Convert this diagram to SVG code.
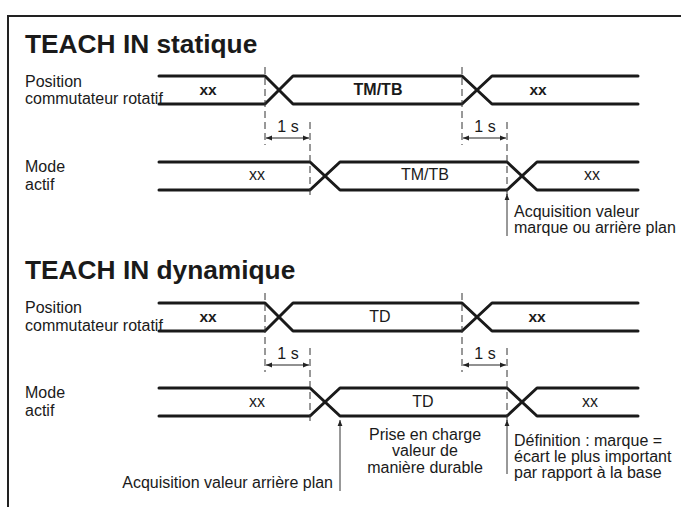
<svg xmlns="http://www.w3.org/2000/svg" width="681" height="507" viewBox="0 0 681 507">
  <defs>
    <marker id="ah" viewBox="0 0 10 10" refX="10" refY="5" markerWidth="8" markerHeight="6" markerUnits="userSpaceOnUse" orient="auto-start-reverse">
      <path d="M0,1 L10,5 L0,9 Z" fill="#222"/>
    </marker>
    <marker id="ahUp" viewBox="0 0 10 10" refX="10" refY="5" markerWidth="9" markerHeight="6" markerUnits="userSpaceOnUse" orient="auto">
      <path d="M0,1 L10,5 L0,9 Z" fill="#222"/>
    </marker>
  </defs>
  <style>
    text { font-family: "Liberation Sans", Arial, Helvetica, sans-serif; fill: #1a1a1a; }
    .title { font-size: 26.3px; font-weight: bold; }
    .lbl { font-size: 16px; }
    .val { font-size: 16px; text-anchor: middle; }
    .valb { font-size: 15.5px; text-anchor: middle; font-weight: bold; }
    .mid { text-anchor: middle; }
    .end { text-anchor: end; }
    .sig { fill: none; stroke: #1a1a1a; stroke-width: 3; stroke-linecap: round; stroke-linejoin: round; }
    .dash { fill: none; stroke: #333; stroke-width: 1; stroke-dasharray: 7 4; }
    .dim { fill: none; stroke: #222; stroke-width: 1; }
    .ann { fill: none; stroke: #333; stroke-width: 1; }
    .frame { fill: none; stroke: #222; stroke-width: 2; }
  </style>
  <rect width="681" height="507" fill="#fff"/>
  <path class="frame" d="M8,507 V16 H681"/>

  <!-- STATIC -->
  <g id="static">
    <text class="title" x="25" y="53">TEACH IN statique</text>
    <g id="static-position">
      <text class="lbl" x="25" y="87">Position</text>
      <text class="lbl" x="25" y="104">commutateur rotatif</text>
      <path class="sig" d="M159,76 H265 L293,104 H462 L492,76 H638"/>
      <path class="sig" d="M159,104 H265 L293,76 H462 L492,104 H638"/>
      <text class="valb" x="208" y="95">xx</text>
      <text class="val" x="378" y="95" font-weight="bold" font-size="15.5">TM/TB</text>
      <text class="valb" x="538" y="95">xx</text>
    </g>
    <g id="static-mode">
      <text class="lbl" x="25" y="172">Mode</text>
      <text class="lbl" x="25" y="190">actif</text>
      <path class="sig" d="M159,162 H310 L340,190 H507 L537,162 H638"/>
      <path class="sig" d="M159,190 H310 L340,162 H507 L537,190 H638"/>
      <text class="val" x="257" y="180">xx</text>
      <text class="val" x="425" y="180">TM/TB</text>
      <text class="val" x="592" y="180">xx</text>
    </g>
    <g id="static-timing">
      <path class="dash" d="M265,67 V145 M462,67 V145 M310,122 V198 M507,122 V198"/>
      <path class="dim" d="M266,138 H309" marker-start="url(#ah)" marker-end="url(#ah)"/>
      <path class="dim" d="M463,138 H506" marker-start="url(#ah)" marker-end="url(#ah)"/>
      <text class="lbl mid" x="288" y="132">1 s</text>
      <text class="lbl mid" x="485" y="132">1 s</text>
    </g>
    <g id="static-acquisition">
      <path class="ann" d="M507,236 V194" marker-end="url(#ahUp)"/>
      <text class="lbl" x="514" y="217">Acquisition valeur</text>
      <text class="lbl" x="514" y="233">marque ou arrière plan</text>
    </g>
  </g>

  <!-- DYNAMIC -->
  <g id="dynamic">
    <text class="title" x="25" y="279">TEACH IN dynamique</text>
    <g id="dynamic-position">
      <text class="lbl" x="25" y="313">Position</text>
      <text class="lbl" x="25" y="331">commutateur rotatif</text>
      <path class="sig" d="M159,303 H265 L293,331 H462 L492,303 H638"/>
      <path class="sig" d="M159,331 H265 L293,303 H462 L492,331 H638"/>
      <text class="valb" x="208" y="322">xx</text>
      <text class="val" x="380" y="322">TD</text>
      <text class="valb" x="537" y="322">xx</text>
    </g>
    <g id="dynamic-mode">
      <text class="lbl" x="25" y="398">Mode</text>
      <text class="lbl" x="25" y="416">actif</text>
      <path class="sig" d="M159,388 H310 L340,416 H507 L537,388 H638"/>
      <path class="sig" d="M159,416 H310 L340,388 H507 L537,416 H638"/>
      <text class="val" x="257" y="407">xx</text>
      <text class="val" x="423" y="407">TD</text>
      <text class="val" x="590" y="407">xx</text>
    </g>
    <g id="dynamic-timing">
      <path class="dash" d="M265,293 V372 M462,293 V372 M310,348 V424 M507,348 V424"/>
      <path class="dim" d="M266,365 H309" marker-start="url(#ah)" marker-end="url(#ah)"/>
      <path class="dim" d="M463,365 H506" marker-start="url(#ah)" marker-end="url(#ah)"/>
      <text class="lbl mid" x="288" y="359">1 s</text>
      <text class="lbl mid" x="485" y="359">1 s</text>
    </g>
    <g id="dynamic-background">
      <path class="ann" d="M340,491 V420" marker-end="url(#ahUp)"/>
      <text class="lbl end" x="333" y="488">Acquisition valeur arrière plan</text>
    </g>
    <g id="dynamic-durable">
      <text class="lbl mid" x="425" y="440">Prise en charge</text>
      <text class="lbl mid" x="425" y="456">valeur de</text>
      <text class="lbl mid" x="425" y="473">manière durable</text>
    </g>
    <g id="dynamic-definition">
      <path class="ann" d="M507,474 V420" marker-end="url(#ahUp)"/>
      <text class="lbl" x="514" y="446">Définition : marque =</text>
      <text class="lbl" x="514" y="462">écart le plus important</text>
      <text class="lbl" x="514" y="478">par rapport à la base</text>
    </g>
  </g>
</svg>
